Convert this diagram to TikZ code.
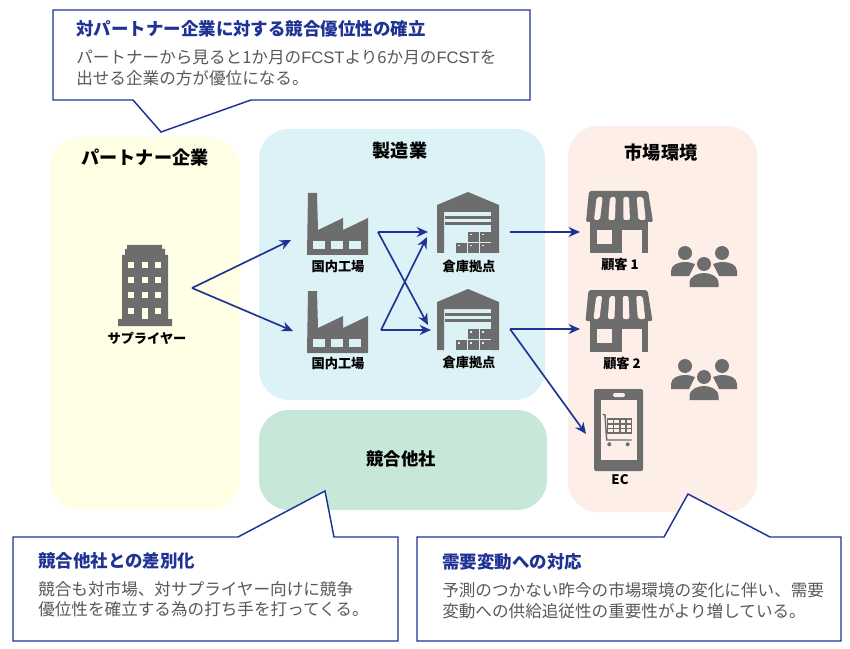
\documentclass[tikz,border=0pt]{standalone}
\usepackage{fontspec}
\setmainfont{Noto Sans CJK JP}
\newfontfamily\latinfont{Liberation Sans}
\usetikzlibrary{arrows.meta}

\definecolor{navy}{HTML}{1F3394}
\definecolor{icongray}{HTML}{6D6D6D}
\definecolor{bodygray}{HTML}{595959}
\definecolor{zoneyellow}{HTML}{FFFFE6}
\definecolor{zoneblue}{HTML}{DDF2F6}
\definecolor{zonegreen}{HTML}{C7E8D9}
\definecolor{zoneorange}{HTML}{FDEFE8}

\tikzset{
  zone/.style={rounded corners=22.5pt},
  callout/.style={draw=navy,fill=white,line width=1.1pt,line join=miter},
  flow/.style={draw=navy,line width=1.25pt,-{Stealth[length=8.5pt,width=7.5pt]}},
  zonetitle/.style={font=\fontsize{13.6}{16}\selectfont\bfseries,inner sep=0pt},
  calltitle/.style={font=\fontsize{13.1}{16}\selectfont\bfseries,text=navy,anchor=west,inner sep=0pt},
  callbody/.style={font=\fontsize{12.45}{15}\selectfont,text=bodygray,anchor=west,inner sep=0pt},
  iconlabel/.style={font=\fontsize{9.9}{12}\selectfont\bfseries,inner sep=0pt},
  building/.pic={
    \fill[icongray] (9,0) -- (44,0) -- (44,4) -- (47,4) -- (47,10) -- (50,10) -- (50,74) -- (54,74)
      -- (54,81) -- (0,81) -- (0,74) -- (4,74) -- (4,10) -- (7,10) -- (7,4) -- (9,4) -- cycle;
    \foreach \wx in {10,24,37} \foreach \wy in {17,32,47,63}
      \fill[zoneyellow] (\wx,\wy) rectangle +(6,6);
    \fill[zoneyellow] (24,63) rectangle (30,74);
  },
  factory/.pic={
    \fill[icongray] (1,0) -- (10,0) -- (11,37) -- (36,25) -- (36,37) -- (61,25) -- (61,62) -- (0,62) -- cycle;
    \foreach \wx in {6,24,42}
      \fill[zoneblue] (\wx,48) rectangle +(12,8);
  },
  warehouse/.pic={
    \fill[icongray] (31,0) -- (62,13) -- (62,61) -- (54,61) -- (54,20) -- (7,20) -- (7,61) -- (0,61) -- (0,13) -- cycle;
    \fill[icongray] (8,24) rectangle (54,27);
    \fill[icongray] (8,30) rectangle (54,33);
    % boxes
    \foreach \bx/\by in {31/40,43/40,19/51,31/51,43/51}{
      \fill[icongray] (\bx,\by) rectangle +(11,10);
      \fill[zoneblue] (\bx+1.5,\by+2) rectangle +(2,1.5);
    }
  },
  store/.pic={
    \fill[icongray,rounded corners=1.5pt] (3,0) -- (62,0) -- (67,31) -- (0,31) -- cycle;
    \fill[icongray] (4,30) rectangle (62,62);
    \fill[zoneorange] (11,39) rectangle (26,53);
    \fill[zoneorange] (36,39) rectangle (56,62);
    % awning stripes
    \foreach \ta/\tb/\ba/\bb in {10.7/16.7/8/14,24/29.7/22.3/29,37.3/43/37.3/44,50.7/57.3/52.3/59.7}
      \fill[zoneorange,rounded corners=1.5pt] (\ta,6) -- (\tb,6) -- (\bb,29) -- (\ba,29) -- cycle;
  },
  people/.pic={
    \fill[icongray] (-19,-11) circle (7);
    \fill[icongray] (18,-11) circle (7);
    \fill[icongray] (0,0) circle (7);
    \fill[icongray] (-33,12) -- (-33,7) .. controls (-33,1) and (-26,-2) .. (-19,-2)
      .. controls (-15,-2) and (-12,-1) .. (-9,0) -- (-15,12) -- cycle;
    \fill[icongray] (33,12) -- (33,7) .. controls (33,1) and (26,-2) .. (19,-2)
      .. controls (15,-2) and (12,-1) .. (9,0) -- (15,12) -- cycle;
    \fill[icongray] (-14.5,23) -- (-14.5,19) .. controls (-14.5,12) and (-6,9) .. (0,9)
      .. controls (6,9) and (14.5,12) .. (14.5,19) -- (14.5,23) -- cycle;
  },
  phone/.pic={
    \fill[icongray,rounded corners=1.5pt] (0,0) rectangle (49,82);
    \fill[zoneorange] (7,11) rectangle (43,71);
    \fill[zoneorange,rounded corners=1.5pt] (19,4) rectangle (31,8);
    % cart
    \draw[icongray,line width=1.1pt] (8.7,25.3) -- (11,26) -- (12.7,51) -- (37.7,51);
    \fill[icongray] (12.7,29.3) rectangle (38.3,44.5);
    \foreach \cx in {14.2,20.4,26.6,32.8} \foreach \cy in {31,35.6,40.2}
      \fill[zoneorange] (\cx,\cy) rectangle +(4.5,3.2);
    \fill[icongray] (15.3,55.3) circle (2);
    \fill[icongray] (33.7,55.3) circle (2);
  },
}

\begin{document}
\begin{tikzpicture}[x=0.75pt,y=-0.75pt]
\useasboundingbox (0,0) rectangle (850,649);

% zones
\fill[zoneyellow,zone] (50,137) rectangle (240,510);
\fill[zoneblue,zone] (259,129) rectangle (545,400);
\fill[zonegreen,zone] (259,410) rectangle (547,510);
\fill[zoneorange,zone] (568,126) rectangle (757,512);

\node[zonetitle] (partnertitle) at (145,158) {パートナー企業};
\node[zonetitle] (makertitle) at (400,151) {製造業};
\node[zonetitle] (markettitle) at (661,153) {市場環境};
\node[zonetitle,font=\fontsize{13}{16}\selectfont\bfseries] (rivaltitle) at (401,459) {競合他社};

% supplier
\pic at (118,245) {building};
\node[iconlabel] (supplier) at (147,338) {サプライヤー};

% factories
\pic at (307,193) {factory};
\pic at (307,291) {factory};
\node[iconlabel] (factorya) at (338,267) {国内工場};
\node[iconlabel] (factoryb) at (338,364) {国内工場};

% warehouses
\pic at (437,192) {warehouse};
\pic at (437,289) {warehouse};
\node[iconlabel] (warea) at (469,266) {倉庫拠点};
\node[iconlabel] (wareb) at (469,362) {倉庫拠点};

% market
\pic at (586,191) {store};
\pic at (585.5,290) {store};
\node[iconlabel] (storea) at (620,265) {顧客 1};
\node[iconlabel] (storeb) at (622,364) {顧客 2};
\pic at (594,389) {phone};
\node[iconlabel] (ec) at (620,480) {EC};
\pic at (704,264) {people};
\pic at (704,377) {people};

% connector ends
\coordinate (supout) at (192,288);
\coordinate (factain) at (291,240);
\coordinate (factbin) at (293,331);
\coordinate (factaout) at (378,232);
\coordinate (factbout) at (381,330);
\coordinate (wareaina) at (428,232);
\coordinate (wareainb) at (427,237);
\coordinate (warebinb) at (431,330);
\coordinate (warebina) at (428,325);
\coordinate (wareaout) at (510,232);
\coordinate (warebout) at (510,329);
\coordinate (storeain) at (580,232);
\coordinate (storebin) at (580,329);
\coordinate (ecin) at (586,434);

\draw[flow] (supout) -- (factain);
\draw[flow] (supout) -- (factbin);
\draw[flow] (factaout) -- (wareaina);
\draw[flow] (factaout) -- (warebina);
\draw[flow] (factbout) -- (wareainb);
\draw[flow] (factbout) -- (warebinb);
\draw[flow] (wareaout) -- (storeain);
\draw[flow] (warebout) -- (storebin);
\draw[flow] (warebout) -- (ecin);

% callouts
\draw[callout] (53,10) -- (530,10) -- (530,100) -- (251,100) -- (161,132) -- (133,100) -- (53,100) -- cycle;
\node[calltitle] (toptitle) at (76,29) {対パートナー企業に対する競合優位性の確立};
\node[callbody] (topbodya) at (76,57) {パートナーから見ると1か月の{\latinfont FCST}より6か月の{\latinfont FCST}を};
\node[callbody] (topbodyb) at (76,78) {出せる企業の方が優位になる。};

\draw[callout] (13,537) -- (238,537) -- (325,491) -- (334,537) -- (398,537) -- (398,641) -- (13,641) -- cycle;
\node[calltitle] (lefttitle) at (38,561) {競合他社との差別化};
\node[callbody] (leftbodya) at (38,589) {競合も対市場、対サプライヤー向けに競争};
\node[callbody] (leftbodyb) at (38,609) {優位性を確立する為の打ち手を打ってくる。};

\draw[callout] (417,537) -- (664,537) -- (688,494) -- (770,537) -- (841,537) -- (841,641) -- (417,641) -- cycle;
\node[calltitle] (righttitle) at (442,562) {需要変動への対応};
\node[callbody] (rightbodya) at (442,590) {予測のつかない昨今の市場環境の変化に伴い、需要};
\node[callbody] (rightbodyb) at (442,611) {変動への供給追従性の重要性がより増している。};

\end{tikzpicture}
\end{document}
